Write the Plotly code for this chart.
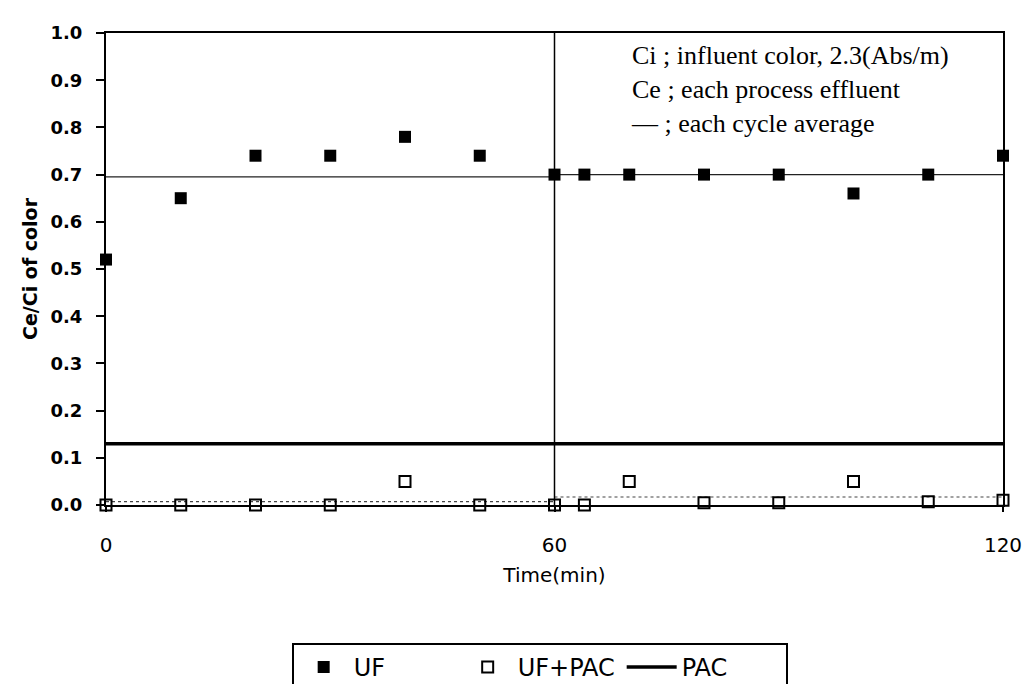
import plotly.graph_objects as go

# Sampling times (min) and effluent colour ratios Ce/Ci
time_min = [0, 10, 20, 30, 40, 50, 60, 64, 70, 80, 90, 100, 110, 120]
uf = [0.52, 0.65, 0.74, 0.74, 0.78, 0.74, 0.70, 0.70, 0.70, 0.70, 0.70, 0.66, 0.70, 0.74]
uf_pac = [0.0, 0.0, 0.0, 0.0, 0.05, 0.0, 0.0, 0.0, 0.05, 0.005, 0.005, 0.05, 0.007, 0.01]

# PAC alone stays flat over the run
pac_time = [0, 60, 120]
pac = [0.13, 0.13, 0.13]

# Filtration cycles and their averages
cycle_start = [0, 60]
cycle_end = [60, 120]
uf_cycle_avg = [0.695, 0.70]
uf_pac_cycle_avg = [0.007, 0.017]

x_ticks = [0, 60, 120]
y_ticks = [0.0, 0.1, 0.2, 0.3, 0.4, 0.5, 0.6, 0.7, 0.8, 0.9, 1.0]

SANS = "DejaVu Sans"
SERIF = "Liberation Serif"

fig = go.Figure()

# cycle-average lines
for s, e, a in zip(cycle_start, cycle_end, uf_cycle_avg):
    fig.add_trace(go.Scatter(x=[s, e], y=[a, a], mode="lines",
                             line=dict(color="#222", width=1.3),
                             showlegend=False, hoverinfo="skip", cliponaxis=False))
for s, e, a in zip(cycle_start, cycle_end, uf_pac_cycle_avg):
    fig.add_trace(go.Scatter(x=[s, e], y=[a, a], mode="lines",
                             line=dict(color="#444", width=1.2, dash="dot"),
                             showlegend=False, hoverinfo="skip", cliponaxis=False))

fig.add_trace(go.Scatter(x=time_min, y=uf, mode="markers", name="UF",
                         marker=dict(symbol="square", size=12, color="black"),
                         cliponaxis=False))
fig.add_trace(go.Scatter(x=time_min, y=uf_pac, mode="markers", name="UF+PAC",
                         marker=dict(symbol="square-open", size=11, color="black",
                                     line=dict(width=2)),
                         cliponaxis=False))
fig.add_trace(go.Scatter(x=pac_time, y=pac, mode="lines", name="PAC",
                         line=dict(color="black", width=3.5), cliponaxis=False))

# boundary between the two cycles
fig.add_shape(type="line", xref="x", yref="paper", x0=cycle_end[0], x1=cycle_end[0],
              y0=0, y1=1, line=dict(color="black", width=1.5))

fig.add_annotation(
    xref="paper", yref="paper", x=0.583, y=0.987, xanchor="left", yanchor="top",
    align="left", showarrow=False,
    text="Ci ; influent color, 2.3(Abs/m)<br>Ce ; each process effluent<br>— ; each cycle average",
    font=dict(family=SERIF, size=26, color="black"),
)

fig.update_xaxes(
    range=[0, 120], tickvals=x_ticks, ticktext=[str(v) for v in x_ticks],
    showline=True, linecolor="black", linewidth=2, mirror=True,
    ticks="outside", ticklen=5, tickcolor="black", tickwidth=1.5,
    ticklabelstandoff=16,
    showgrid=False, zeroline=False,
    tickfont=dict(family=SANS, size=20, color="black"),
    title=dict(text="Time(min)", font=dict(family=SANS, size=20, color="black"), standoff=12),
)
fig.update_yaxes(
    range=[0, 1], tickvals=y_ticks, tickformat=".1f",
    showline=True, linecolor="black", linewidth=2, mirror=True,
    ticks="outside", ticklen=8, tickcolor="black", tickwidth=1.5,
    ticklabelstandoff=10,
    showgrid=False, zeroline=False,
    tickfont=dict(family=SANS, size=18, color="black", weight="bold"),
    title=dict(text="Ce/Ci of color", font=dict(family=SANS, size=19, color="black", weight="bold"),
               standoff=8),
)

fig.update_layout(
    width=1036, height=684,
    margin=dict(l=106, r=33, t=33, b=179, autoexpand=False),
    paper_bgcolor="white", plot_bgcolor="white",
    showlegend=True,
    legend=dict(
        orientation="h", x=0.207, y=-0.292, xanchor="left", yanchor="top",
        bordercolor="black", borderwidth=2, bgcolor="white",
        font=dict(family=SANS, size=24, color="black"),
        entrywidth=99, entrywidthmode="pixels", itemwidth=50,
    ),
)

fig.write_html("out.html")
